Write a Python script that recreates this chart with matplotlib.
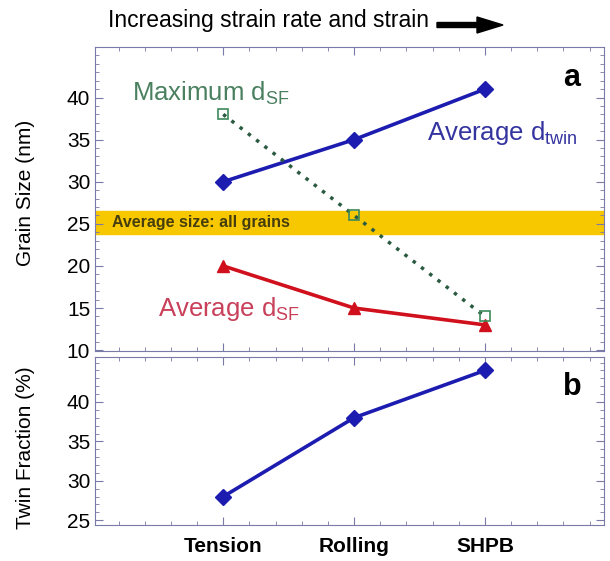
import numpy as np
import matplotlib.pyplot as plt
from matplotlib.ticker import MultipleLocator
from matplotlib.patches import FancyArrow

# data
tests = ['Tension', 'Rolling', 'SHPB']
avg_dtwin = [30, 35, 41]
max_dsf = [38, 26, 14]
avg_dsf = [20, 15, 13]
avg_all_grains = (23.8, 26.5)
twin_fraction = [28, 38, 44]

x = np.arange(1, len(tests) + 1)

plt.rcParams['font.family'] = ['Liberation Sans', 'DejaVu Sans']

fig = plt.figure(figsize=(6.1, 5.61), dpi=100)
ax1 = fig.add_axes([95/610, 1 - 351/561, 509/610, 304/561])
ax2 = fig.add_axes([95/610, 1 - 525/561, 509/610, 168/561])

spine_col = '#7a7aa8'
for ax in (ax1, ax2):
    ax.set_xlim(0.02, 3.91)
    ax.xaxis.set_major_locator(MultipleLocator(1))
    ax.xaxis.set_minor_locator(MultipleLocator(0.2))
    ax.yaxis.set_minor_locator(MultipleLocator(1))
    ax.yaxis.set_major_locator(MultipleLocator(5))
    ax.tick_params(which='both', direction='in', top=True, right=True,
                   color=spine_col, labelsize=15)
    ax.tick_params(which='major', length=6)
    ax.tick_params(which='minor', length=3)
    for s in ax.spines.values():
        s.set_color(spine_col)

# (a) grain sizes
ax1.axhspan(*avg_all_grains, color='#f7c800', zorder=1)
ax1.text(0.15, np.mean(avg_all_grains), 'Average size: all grains', fontsize=11.5,
         fontweight='bold', va='center', ha='left', color='#463e0c', zorder=2)
ax1.plot(x, avg_dtwin, color='#1c1cb0', lw=2.6, marker='D', ms=8, zorder=3)
ax1.plot(x, max_dsf, color='#2a5a40', lw=2.5, ls=(0, (1, 2)), marker='s', ms=7,
         mfc='none', mec='#3d8a5a', mew=1.2, zorder=4)
ax1.plot(x, avg_dsf, color='#d0101c', lw=2.6, marker='^', ms=8, zorder=3)
ax1.set_ylim(9.9, 46)
ax1.set_yticks([10, 15, 20, 25, 30, 35, 40])
ax1.set_xticklabels([])
ax1.set_ylabel('Grain Size (nm)', fontsize=15)
ax1.yaxis.set_label_coords(-0.118, 0.52)
ax1.text(0.3, 40.5, 'Maximum d$_{\\mathregular{SF}}$', fontsize=18.5,
         color='#4a8060', va='center')
ax1.text(2.56, 35.8, 'Average d$_{\\mathregular{twin}}$', fontsize=18.5,
         color='#3434a0', va='center')
ax1.text(0.5, 14.9, 'Average d$_{\\mathregular{SF}}$', fontsize=18.5,
         color='#c8405a', va='center')
ax1.text(0.937, 0.898, 'a', transform=ax1.transAxes, fontsize=22,
         fontweight='bold', ha='center', va='center')

# (b) twin fraction
ax2.plot(x, twin_fraction, color='#1c1cb0', lw=2.6, marker='D', ms=8)
ax2.set_ylim(24.4, 45.7)
ax2.set_yticks([25, 30, 35, 40])
ax2.set_xticks(x)
ax2.set_xticklabels(tests, fontsize=15, fontweight='bold')
ax2.tick_params(axis='x', which='major', pad=9)
ax2.set_ylabel('Twin Fraction (%)', fontsize=15)
ax2.yaxis.set_label_coords(-0.118, 0.46)
ax2.text(0.937, 0.82, 'b', transform=ax2.transAxes, fontsize=22,
         fontweight='bold', ha='center', va='center')

fig.text(108/610, 1 - 20/561, 'Increasing strain rate and strain', fontsize=16.5,
         va='center', ha='left')
fig.add_artist(FancyArrow(
    437/610, 1 - 25/561, 66/610, 0, width=5/561, head_width=16/561,
    head_length=26/610, length_includes_head=True, color='black',
    transform=fig.transFigure))

fig.savefig('out.png', dpi=100)
